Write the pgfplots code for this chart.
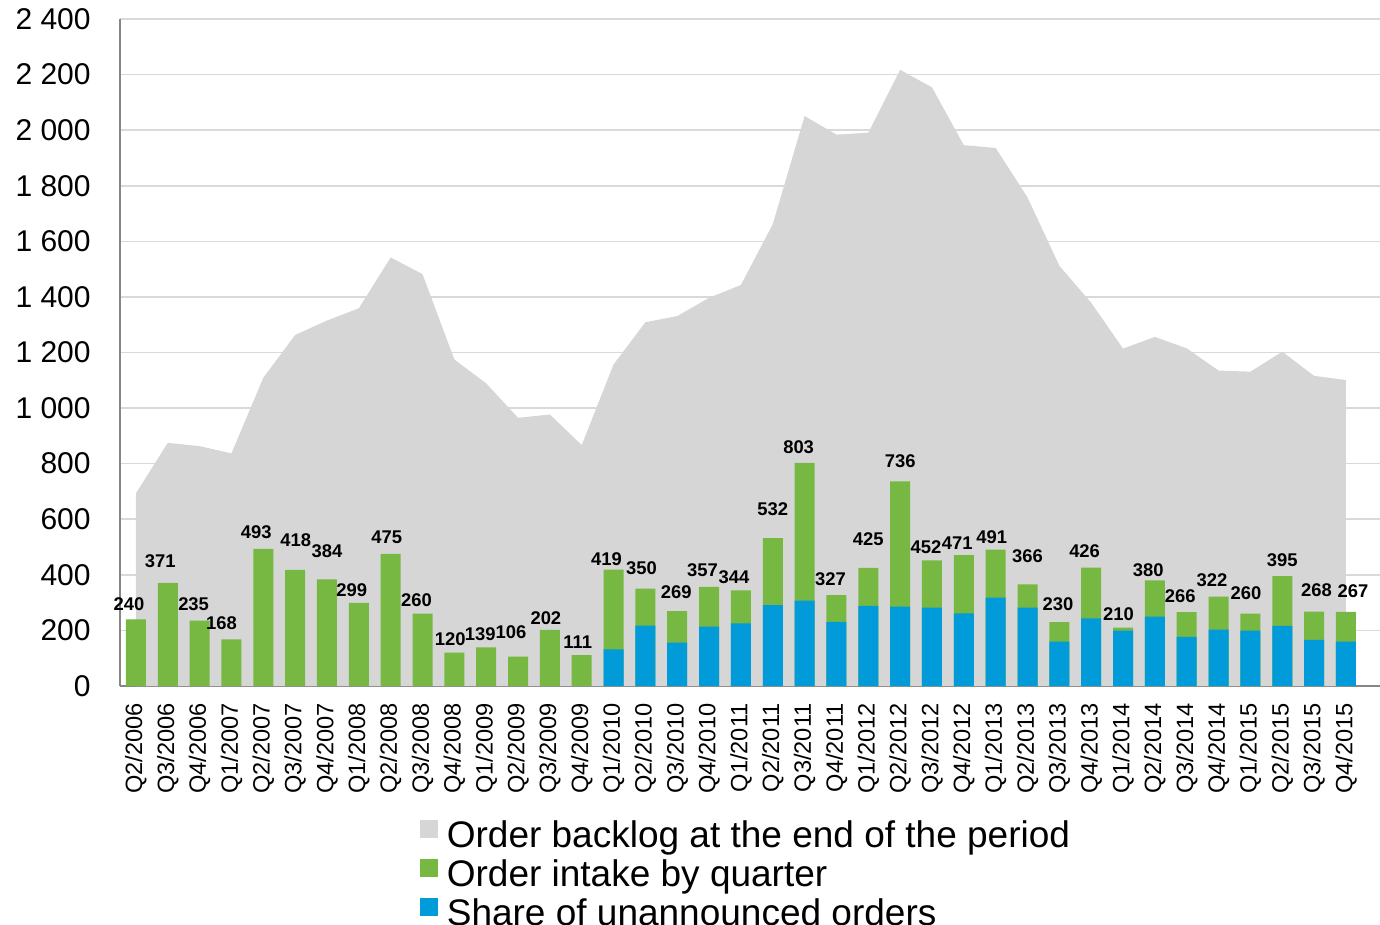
\documentclass[border=0pt]{standalone}
\usepackage{pgfplots}
\pgfplotsset{compat=1.18}
\usepackage{pgfplotstable}
\usepackage{fontspec}
\setmainfont{Liberation Sans}

\definecolor{backlog}{HTML}{D6D6D6}
\definecolor{intake}{HTML}{77B843}
\definecolor{share}{HTML}{009BD8}
\definecolor{gridgray}{HTML}{D9D9D9}
\definecolor{axisgray}{HTML}{868686}

% dx, dy: label offsets in px (1px = 0.5pt)
\pgfplotstableread{
i  q        backlog intake share dx   dy
0  Q2/2006  693     240    nan   -7   9
1  Q3/2006  875     371    nan   -7.5 15
2  Q4/2006  863     235    nan   -6   10
3  Q1/2007  837     168    nan   -10  10
4  Q2/2007  1109    493    nan   -7   10.7
5  Q3/2007  1263    418    nan   0.7  23.7
6  Q4/2007  1315    384    nan   0    22
7  Q1/2008  1359    299    nan   -7   6.7
8  Q2/2008  1542    475    nan   -4   10
9  Q3/2008  1482    260    nan   -6   7
10 Q4/2008  1175    120    nan   -4   7
11 Q1/2009  1089    139    nan   -6   6.7
12 Q2/2009  965     106    nan   -7   18
13 Q3/2009  977     202    nan   -4   5
14 Q4/2009  867     111    nan   -4   7
15 Q1/2010  1157    419    132   -7   4
16 Q2/2010  1309    350    217   -4   14.7
17 Q3/2010  1331    269    156   -1   13
18 Q4/2010  1397    357    214   -6.5 10
19 Q1/2011  1443    344    225   -7   7
20 Q2/2011  1662    532    291   0    23
21 Q3/2011  2051    803    307   -6   9.6
22 Q4/2011  1984    327    231   -6   9.4
23 Q1/2012  1991    425    288   0    22
24 Q2/2012  2217    736    286   0    14
25 Q3/2012  2154    452    282   -6   7
26 Q4/2012  1946    471    261   -6.6 5.8
27 Q1/2013  1936    491    318   -4   6.3
28 Q2/2013  1758    366    282   0    21.6
29 Q3/2013  1512    230    160   -1.4 12
30 Q4/2013  1379    426    243   -6.6 10.3
31 Q1/2014  1214    210    199   -4.5 7
32 Q2/2014  1256    380    250   -6.6 3.7
33 Q3/2014  1215    266    177   -6.5 9.4
34 Q4/2014  1135    322    203   -6.6 10.5
35 Q1/2015  1131    260    199   -4.5 14.7
36 Q2/2015  1203    395    216   0    10
37 Q3/2015  1116    268    166   2.4  15
38 Q4/2015  1101    267    160   7    14
}\data

\begin{document}
\begin{tikzpicture}
\begin{axis}[
    name=ax,
    scale only axis,
    width=630pt, height=333.5pt,
    xmin=-0.5, xmax=39.07,
    ymin=0, ymax=2400,
    ytick={0,200,...,2400},
    xtick={0,...,38},
    xticklabels from table={\data}{q},
    axis lines*=left,
    axis line style={draw=axisgray, line width=1pt},
    major tick length=0pt,
    ymajorgrids=true,
    grid style={draw=gridgray, line width=0.8pt},
    /pgf/number format/assume math mode=true,
    yticklabel style={font=\fontsize{15}{15}\selectfont, anchor=east,
        inner xsep=14.5pt, inner ysep=0pt,
        /pgf/number format/1000 sep={\ }},
    xticklabel style={font=\fontsize{11.8}{12}\selectfont, rotate=90, anchor=east,
        inner xsep=8.5pt, inner ysep=0pt},
    legend style={at={(0.496,-0.2009)}, anchor=north, draw=none, fill=none,
        inner sep=0pt, outer sep=0pt,
        font=\fontsize{18.5}{19}\selectfont,
        row sep=2pt, column sep=4.5pt,
        nodes={inner sep=0pt, text height=13pt, text depth=4pt}},
    legend cell align=left,
]
\addplot[fill=backlog, draw=none,
    legend image code/.code={\fill[backlog] (0pt,0pt) rectangle (9pt,9pt);}]
    table[x=i, y=backlog]{\data} \closedcycle;
\addlegendentry{Order backlog at the end of the period}

\addplot[ybar, bar width=10pt, bar shift=0pt, fill=intake, draw=none,
    nodes near coords,
    visualization depends on={\thisrow{dx}\as\dx},
    visualization depends on={\thisrow{dy}\as\dy},
    every node near coord/.append style={font=\bfseries\fontsize{9.2}{9.2}\selectfont,
        anchor=base, inner sep=0pt, text=black,
        xshift={\dx*0.5pt}, yshift={\dy*0.5pt}},
    legend image code/.code={\fill[intake] (0pt,0pt) rectangle (9pt,9pt);}]
    table[x=i, y=intake]{\data};
\addlegendentry{Order intake by quarter}

\addplot[ybar, bar width=10pt, bar shift=0pt, fill=share, draw=none,
    legend image code/.code={\fill[share] (0pt,0pt) rectangle (9pt,9pt);}]
    table[x=i, y=share]{\data};
\addlegendentry{Share of unannounced orders}
\end{axis}
\pgfresetboundingbox
\path (ax.south west) ++(-60pt,-119.5pt) rectangle ++(690pt,462.5pt);
\end{tikzpicture}
\end{document}
